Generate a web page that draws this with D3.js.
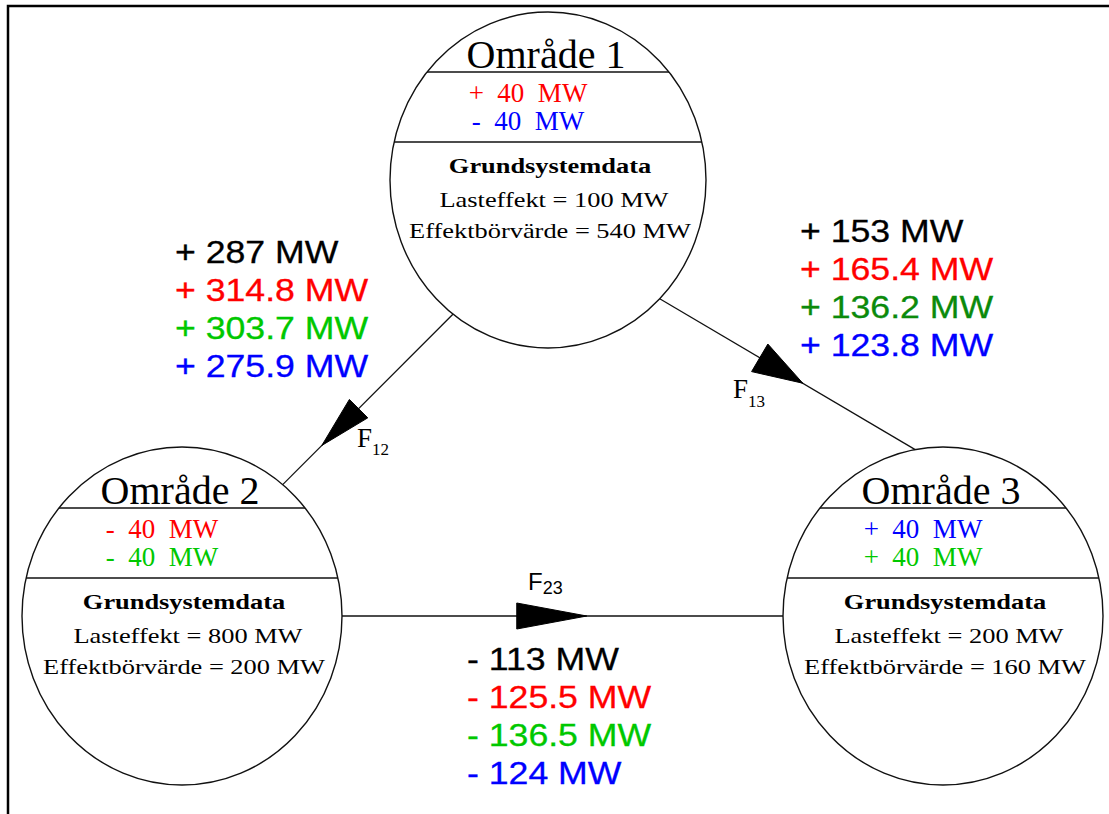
<!DOCTYPE html>
<html>
<head>
<meta charset="utf-8">
<script src="https://cdn.jsdelivr.net/npm/d3@7"></script>
<style>
  html, body { margin: 0; padding: 0; background: #fff; }
  svg text { white-space: pre; }
</style>
</head>
<body>
<div class="diagram"></div>
<script>
'use strict';

// scenarios: base case + three disturbances, colour coded
const scenarios = ["bas", "fall 1", "fall 2", "fall 3"];
const scenarioColors = ["#000000", "#ff0000", "#00c800", "#0000ff"];

const areaNames = ["Område 1", "Område 2", "Område 3"];
const lastEffekt = [100, 800, 200];
const effektBorvarde = [540, 200, 160];

// power steps in each area: [scenario index, MW]
const changesOmr1 = [[1, 40], [3, -40]];
const changesOmr2 = [[1, -40], [2, -40]];
const changesOmr3 = [[3, 40], [2, 40]];

// tie-line flows per scenario (bas, fall 1, fall 2, fall 3)
const flowNames = ["12", "13", "23"];
const flowF12 = [287, 314.8, 303.7, 275.9];
const flowF13 = [153, 165.4, 136.2, 123.8];
const flowF23 = [-113, -125.5, -136.5, -124];

// ---- layout (diagram geometry only) ----
const W = 1109, H = 814;
const nodeLayout = [
  {cx: 548, cy: 180, rx: 158, ry: 168},
  {cx: 182, cy: 616, rx: 160, ry: 169},
  {cx: 943, cy: 616, rx: 160, ry: 169}
];
const edgeLayout = [
  {from: 0, to: 1, a0: 127, a1: -51, tip: 0.77, len: 52, half: 13,
   label: [357, 447], serif: true, sub: 8, text: [175, 263], green: null},
  {from: 0, to: 2, a0: 45, a1: -100, tip: 0.56, len: 50, half: 16,
   label: [733, 398], serif: true, sub: 9, text: [800, 242], green: "#0b8a0b"},
  {from: 1, to: 2, a0: 0, a1: 180, tip: 0.555, len: 70, half: 13,
   label: [528, 590], serif: false, sub: 4, text: [467, 670], green: null}
];
const lineGap = 38;

(function() {

  const svg = d3.select('.diagram').append('svg')
    .attr('width', W).attr('height', H);

  svg.append('rect').attr('width', W).attr('height', H).attr('fill', '#fff');

  // frame (top and left only)
  svg.append('path')
    .attr('d', d3.line()([[8, H], [8, 6], [W, 6]]))
    .attr('fill', 'none').attr('stroke', '#000').attr('stroke-width', 2.5);

  const color = d3.scaleOrdinal().domain(scenarios).range(scenarioColors);
  const allChanges = [changesOmr1, changesOmr2, changesOmr3];
  const allFlows = [flowF12, flowF13, flowF23];

  function onEllipse(n, deg) {
    let a = deg * Math.PI / 180;
    return [n.cx + n.rx * Math.cos(a), n.cy + n.ry * Math.sin(a)];
  }

  function fmt(v) {
    return (v < 0 ? "- " : "+ ") + Math.abs(v) + " MW";
  }

  // ---- tie lines with arrows ----
  edgeLayout.forEach(function(e, i) {
    let p0 = onEllipse(nodeLayout[e.from], e.a0);
    let p1 = onEllipse(nodeLayout[e.to], e.a1);

    svg.append('path')
      .attr('d', d3.line()([p0, p1]))
      .attr('stroke', '#111').attr('stroke-width', 1.3).attr('fill', 'none');

    let dx = p1[0] - p0[0], dy = p1[1] - p0[1];
    let d = Math.hypot(dx, dy);
    let ux = dx / d, uy = dy / d;
    let tip = [p0[0] + dx * e.tip, p0[1] + dy * e.tip];
    let base = [tip[0] - ux * e.len, tip[1] - uy * e.len];
    let tri = [
      tip,
      [base[0] - uy * e.half, base[1] + ux * e.half],
      [base[0] + uy * e.half, base[1] - ux * e.half]
    ];
    svg.append('path')
      .attr('d', d3.line()(tri) + 'Z')
      .attr('fill', '#000').attr('stroke', '#000').attr('stroke-width', 1);

    // F label
    let lab = svg.append('text')
      .attr('x', e.label[0]).attr('y', e.label[1])
      .style('font-family', e.serif ? '"Liberation Serif", "Times New Roman", serif' : '"Liberation Sans", Arial, sans-serif')
      .style('font-size', e.serif ? '27px' : '24px')
      .attr('fill', '#000');
    lab.append('tspan').text('F');
    lab.append('tspan').attr('dy', e.sub)
      .style('font-size', e.serif ? '17px' : '18px')
      .text(flowNames[i]);

    // flow values per scenario
    svg.append('g').selectAll('text')
      .data(allFlows[i])
      .enter()
      .append('text')
        .attr('transform', (v, k) => 'translate(' + e.text[0] + ',' + (e.text[1] + k * lineGap) + ') scale(1.15,1)')
        .style('font-family', '"Liberation Sans", Arial, sans-serif')
        .style('font-size', '31px')
        .attr('fill', (v, k) => (k == 2 && e.green) ? e.green : color(scenarios[k]))
        .attr('stroke', (v, k) => (k == 2 && e.green) ? e.green : color(scenarios[k]))
        .attr('stroke-width', 0.3)
        .text((v) => fmt(v));
  });

  // ---- area circles ----
  nodeLayout.forEach(function(n, i) {
    let g = svg.append('g');

    g.append('ellipse')
      .attr('cx', n.cx).attr('cy', n.cy).attr('rx', n.rx).attr('ry', n.ry)
      .attr('fill', 'none').attr('stroke', '#111').attr('stroke-width', 1.4);

    [-108, -38].forEach(function(off) {
      let hw = n.rx * Math.sqrt(1 - (off / n.ry) * (off / n.ry));
      g.append('line')
        .attr('x1', n.cx - hw).attr('x2', n.cx + hw)
        .attr('y1', n.cy + off).attr('y2', n.cy + off)
        .attr('stroke', '#111').attr('stroke-width', 1.4);
    });

    const serif = '"Liberation Serif", "Times New Roman", serif';

    g.append('text')
      .attr('x', n.cx - 2).attr('y', n.cy - 112)
      .attr('text-anchor', 'middle')
      .style('font-family', serif).style('font-size', '40px')
      .text(areaNames[i]);

    g.selectAll('.chg')
      .data(allChanges[i])
      .enter()
      .append('text')
        .attr('x', n.cx - 20)
        .attr('y', (c, k) => n.cy - 78 + k * 28)
        .attr('text-anchor', 'middle')
        .style('font-family', serif).style('font-size', '27px')
        .attr('fill', (c) => color(scenarios[c[0]]))
        .text((c) => (c[1] < 0 ? "-  " : "+  ") + Math.abs(c[1]) + "  MW");

    let body = [
      {t: "Grundsystemdata", y: -7, dx: 2, bold: true},
      {t: "Lasteffekt = " + lastEffekt[i] + " MW", y: 27, dx: 6, bold: false},
      {t: "Effektbörvärde = " + effektBorvarde[i] + " MW", y: 58, dx: 2, bold: false}
    ];
    g.selectAll('.body')
      .data(body)
      .enter()
      .append('text')
        .attr('transform', (b) => 'translate(' + (n.cx + b.dx) + ',' + (n.cy + b.y) + ') scale(1.2,1)')
        .attr('text-anchor', 'middle')
        .style('font-family', serif).style('font-size', '22px')
        .style('font-weight', (b) => b.bold ? 'bold' : 'normal')
        .text((b) => b.t);
  });

})();
</script>
</body>
</html>
